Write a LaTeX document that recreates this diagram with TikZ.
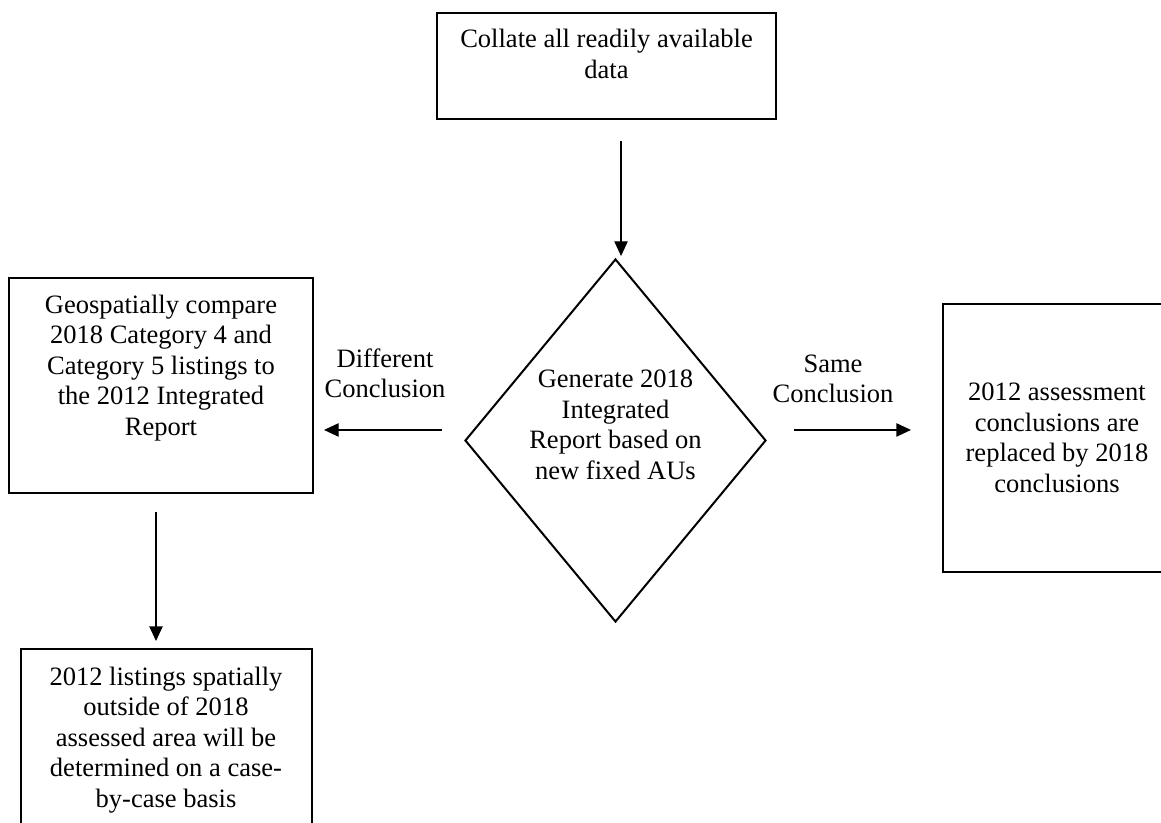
\documentclass[tikz,border=0pt]{standalone}
\usepackage{fontspec}
\setmainfont{Liberation Serif}
\usetikzlibrary{arrows.meta,shapes.geometric}
\begin{document}
\begin{tikzpicture}[x=0.75pt,y=-0.75pt,
  box/.style={draw,line width=1.5pt,rectangle,inner sep=0pt},
  txt/.style={align=center,inner sep=0pt,font=\fontsize{19.9}{22.9}\selectfont},
  arr/.style={-{Triangle[length=11pt,width=10pt]},line width=1pt}]
\useasboundingbox (0,0) rectangle (1161,823);
\clip (0,0) rectangle (1161,823);
\fill[white] (0,0) rectangle (1161,823);
% boxes
\node[box,minimum width={339*0.75pt},minimum height={106*0.75pt}] (top) at (606.5,66) {};
\node[txt] (toptext) at (606.5,54) {Collate all readily available\\data};
\node[draw,diamond,line width=1.5pt,inner sep=0pt,minimum width={301*0.75pt},minimum height={363*0.75pt}] (dec) at (615.5,440.5) {};
\node[txt] (dectext) at (615.5,425) {Generate 2018\\Integrated\\Report based on\\new fixed AUs};
\node[box,minimum width={304*0.75pt},minimum height={215*0.75pt}] (left) at (161,385.5) {};
\node[txt] (lefttext) at (161,368) {Geospatially compare\\2018 Category 4 and\\Category 5 listings to\\the 2012 Integrated\\Report};
\node[box,minimum width={228*0.75pt},minimum height={268*0.75pt}] (right) at (1057,438) {};
\node[txt] (righttext) at (1057,438) {2012 assessment\\conclusions are\\replaced by 2018\\conclusions};
\node[box,minimum width={291*0.75pt},minimum height={191*0.75pt}] (bottom) at (166.5,744.5) {};
\node[txt] (bottomtext) at (166,740) {2012 listings spatially\\outside of 2018\\assessed area will be\\determined on a case-\\by-case basis};
% labels
\node[txt] (difflabel) at (385,373.5) {Different\\Conclusion};
\node[txt] (samelabel) at (833,379) {Same\\Conclusion};
% connectors
\draw[arr,shorten <=15.75pt,shorten >=1.5pt] ([xshift=10.9pt]top.south) -- ([xshift=10.9pt]top.south |- dec.north);
\draw[arr,shorten <=16.5pt,shorten >=7.5pt] ([yshift=7.9pt]dec.west) -- ([yshift=7.9pt]dec.west -| left.east);
\draw[arr,shorten <=20.25pt,shorten >=23.25pt] ([yshift=7.9pt]dec.east) -- ([yshift=7.9pt]dec.east -| right.west);
\draw[arr,shorten <=13.5pt,shorten >=5.25pt] ([xshift=-3.75pt]left.south) -- ([xshift=-3.75pt]left.south |- bottom.north);
\end{tikzpicture}
\end{document}
